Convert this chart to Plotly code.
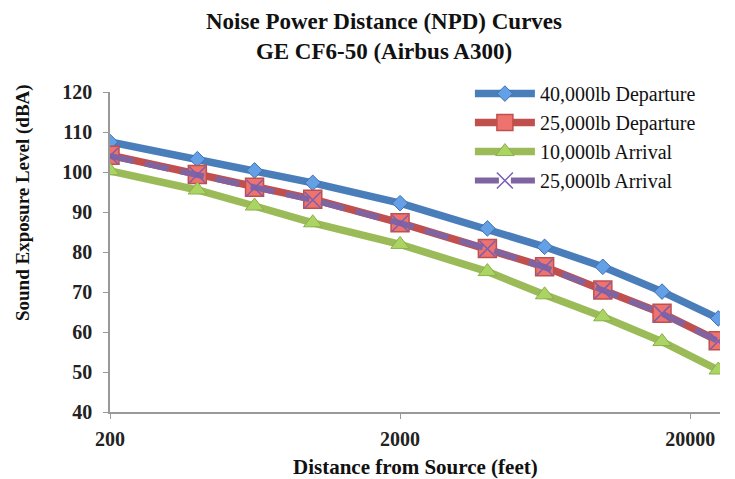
import plotly.graph_objects as go

# distances (feet) and SEL values
distance_ft = [200, 400, 630, 1000, 2000, 4000, 6300, 10000, 16000, 25000]
dep_40k = [107.5, 103.2, 100.4, 97.3, 92.2, 85.9, 81.3, 76.3, 70.1, 63.4]
dep_25k = [104.2, 99.4, 96.2, 93.2, 87.3, 80.9, 76.3, 70.5, 64.7, 57.8]
arr_10k = [100.3, 95.5, 91.5, 87.3, 81.9, 75.1, 69.3, 63.8, 57.6, 50.5]
arr_25k = [104.0, 99.3, 96.0, 93.0, 87.2, 80.8, 76.2, 70.4, 64.6, 57.7]

x_ticks = [200, 2000, 20000]
y_ticks = [40, 50, 60, 70, 80, 90, 100, 110, 120]

SERIF = "Liberation Serif"

fig = go.Figure()

fig.add_trace(go.Scatter(
    x=distance_ft, y=dep_40k, name="40,000lb Departure", mode="lines+markers",
    line=dict(color="#4A7EBB", width=7.5),
    marker=dict(symbol="diamond", size=12, color="#64A0E6",
                line=dict(color="#3F6FB0", width=1)),
))
fig.add_trace(go.Scatter(
    x=distance_ft, y=dep_25k, name="25,000lb Departure", mode="lines+markers",
    line=dict(color="#C0504D", width=7.5),
    marker=dict(symbol="square", size=18, color="#EE736F",
                line=dict(color="#C0504D", width=1.5)),
))
fig.add_trace(go.Scatter(
    x=distance_ft, y=arr_10k, name="10,000lb Arrival", mode="lines+markers",
    line=dict(color="#9BBB59", width=7.5),
    marker=dict(symbol="triangle-up", size=16, color="#ABD563",
                line=dict(color="#8DAE4C", width=1)),
))
fig.add_trace(go.Scatter(
    x=distance_ft, y=arr_25k, name="25,000lb Arrival", mode="lines+markers",
    line=dict(color="#8064A2", width=6, dash="24px,12px"),
    marker=dict(symbol="x-thin", size=16, color="#8064A2",
                line=dict(color="#7A5FB0", width=1.5)),
))

tick_font = dict(family=SERIF, size=20, color="#222", weight="bold")

# the page has an 8px body margin, so margins are set 8px smaller
fig.update_layout(
    width=735, height=479,
    paper_bgcolor="white", plot_bgcolor="white",
    margin=dict(l=102, r=23, t=84, b=75, autoexpand=False),
    legend=dict(
        x=0.590, xanchor="left", y=1.056, yanchor="top",
        bgcolor="rgba(0,0,0,0)", itemwidth=60, tracegroupgap=0,
        font=dict(family=SERIF, size=20, color="#111"),
    ),
    showlegend=True,
    annotations=[
        dict(text="Noise Power Distance (NPD) Curves<br>GE CF6-50 (Airbus A300)",
             xref="paper", yref="paper", x=0.449, y=1.172,
             xanchor="center", yanchor="middle", showarrow=False,
             font=dict(family=SERIF, size=23, color="#111", weight="bold")),
        dict(text="Distance from Source (feet)",
             xref="paper", yref="paper", x=0.5, y=-0.172,
             xanchor="center", yanchor="middle", showarrow=False,
             font=dict(family=SERIF, size=21, color="#111", weight="bold")),
        dict(text="Sound Exposure Level (dBA)", textangle=-90,
             xref="paper", yref="paper", x=-0.1426, y=0.653,
             xanchor="center", yanchor="middle", showarrow=False,
             font=dict(family=SERIF, size=19, color="#111", weight="bold")),
    ],
)

fig.update_xaxes(
    type="log", range=[2.301, 4.404],
    tickvals=x_ticks, ticktext=[str(v) for v in x_ticks],
    showgrid=False, zeroline=False, automargin=False,
    showline=True, linecolor="#999", linewidth=1.5,
    ticks="outside", ticklen=5, tickcolor="#999",
    tickfont=tick_font, ticklabelstandoff=3,
)
fig.update_yaxes(
    range=[40, 120], tickvals=y_ticks,
    showgrid=False, zeroline=False, automargin=False,
    showline=True, linecolor="#999", linewidth=1.5,
    ticks="outside", ticklen=5, tickcolor="#999",
    tickfont=tick_font, ticklabelstandoff=7,
)

fig.write_html("out.html")
